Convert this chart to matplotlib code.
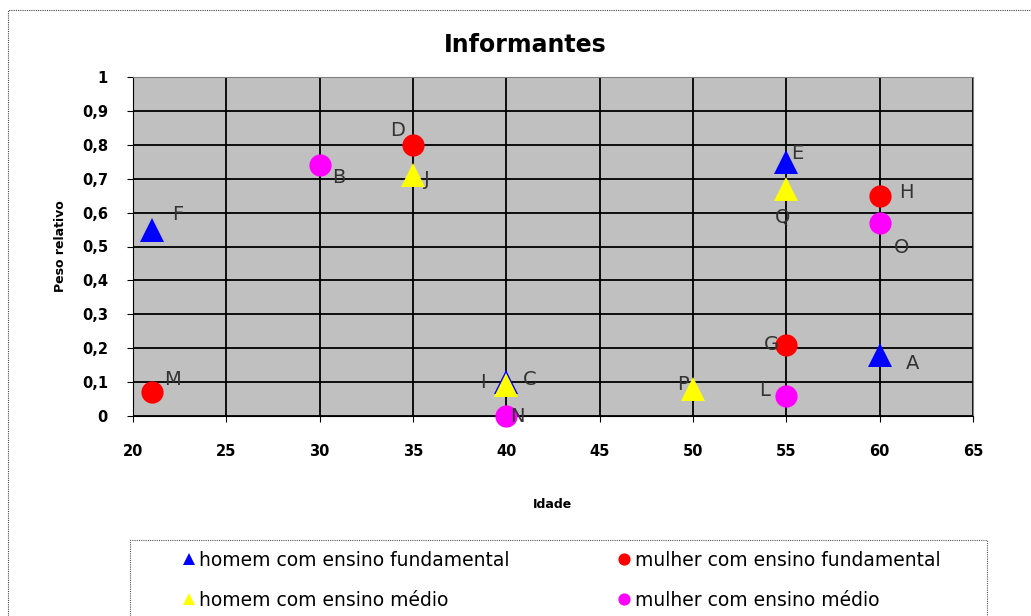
import matplotlib.pyplot as plt
from matplotlib.patches import Rectangle
from matplotlib.ticker import FuncFormatter

# homem com ensino fundamental
hf_idade = [21, 40, 55, 60]
hf_peso = [0.55, 0.10, 0.75, 0.18]
hf_nomes = ['F', 'C', 'E', 'A']

# mulher com ensino fundamental
mf_idade = [21, 35, 55, 60]
mf_peso = [0.07, 0.80, 0.21, 0.65]
mf_nomes = ['M', 'D', 'G', 'H']

# homem com ensino medio
hm_idade = [35, 40, 50, 55]
hm_peso = [0.71, 0.09, 0.08, 0.67]
hm_nomes = ['J', 'I', 'P', 'Q']

# mulher com ensino medio
mm_idade = [30, 40, 55, 60]
mm_peso = [0.74, 0.00, 0.06, 0.57]
mm_nomes = ['B', 'N', 'L', 'O']

# label offsets (points) for each informant letter
offsets = {
    'F': (19, 11), 'C': (17, 2), 'E': (8, 6), 'A': (24, -6),
    'M': (15, 9), 'D': (-11, 10), 'G': (-11, 0), 'H': (19, 2),
    'J': (10, -3), 'I': (-17, 2), 'P': (-7, 3), 'Q': (-3, -20),
    'B': (14, -9), 'N': (8, 0), 'L': (-16, 4), 'O': (16, -18),
}

fig = plt.figure(figsize=(10.31, 6.16), dpi=100)
ax = fig.add_axes([133 / 1031, 1 - 416 / 616, 840 / 1031, 339 / 616])
ax.set_facecolor('#c0c0c0')

fig.patches.append(Rectangle((8 / 1031, -0.05), 1.1, 1 - 10 / 616 + 0.05,
                             transform=fig.transFigure, fill=False,
                             edgecolor='#444444', linestyle=(0, (1, 1)), lw=0.8))

series = [
    (hf_idade, hf_peso, hf_nomes, '^', '#0000ff', 17, 'homem com ensino fundamental'),
    (mf_idade, mf_peso, mf_nomes, 'o', '#ff0000', 16, 'mulher com ensino fundamental'),
    (hm_idade, hm_peso, hm_nomes, '^', '#ffff00', 17, 'homem com ensino médio'),
    (mm_idade, mm_peso, mm_nomes, 'o', '#ff00ff', 16, 'mulher com ensino médio'),
]

handles = {}
for xs, ys, nomes, mk, cor, ms, nome in series:
    h, = ax.plot(xs, ys, linestyle='none', marker=mk, color=cor, ms=ms,
                 markeredgewidth=0, clip_on=False, zorder=3, label=nome)
    handles[nome] = h
    for x, y, n in zip(xs, ys, nomes):
        ax.annotate(n, (x, y), xytext=offsets[n], textcoords='offset points',
                    ha='center', va='center', fontsize=14, color='#333333',
                    zorder=4, annotation_clip=False)

ax.set_xlim(20, 65)
ax.set_ylim(0, 1)
ax.set_xticks(range(20, 66, 5))
ax.set_yticks([i / 10 for i in range(11)])
ax.yaxis.set_major_formatter(FuncFormatter(lambda v, p: ('%g' % round(v, 1)).replace('.', ',')))
ax.grid(True, color='black', lw=1.3)
ax.set_axisbelow(True)
for s in ax.spines.values():
    s.set_color('#808080')
    s.set_linestyle((0, (1, 1)))
ax.spines['left'].set_color('black')
ax.spines['left'].set_linestyle('-')
ax.spines['bottom'].set_color('black')
ax.spines['bottom'].set_linestyle('-')
ax.tick_params(axis='x', length=4, pad=16, labelsize=10.5)
ax.tick_params(axis='y', length=4, pad=14, labelsize=10.5)
for t in ax.get_xticklabels() + ax.get_yticklabels():
    t.set_fontweight('bold')

ax.set_xlabel('Idade', fontsize=9, fontweight='bold', labelpad=28)
ax.set_ylabel('Peso relativo', fontsize=9, fontweight='bold', labelpad=11)
fig.text(525 / 1031, 1 - 45 / 616, 'Informantes', fontsize=17, fontweight='bold',
         ha='center', va='center')

# legend frame drawn separately, its bottom runs off the figure
fig.patches.append(Rectangle((130 / 1031, -0.05), 857 / 1031, 1 - 540 / 616 + 0.05,
                             transform=fig.transFigure, fill=False,
                             edgecolor='#555555', linestyle=(0, (1, 1)), lw=0.8))
ordem = ['homem com ensino fundamental', 'homem com ensino médio',
         'mulher com ensino fundamental', 'mulher com ensino médio']
leg = fig.legend([handles[k] for k in ordem], ordem, ncol=2, loc='upper center',
                 bbox_to_anchor=(560 / 1031, 1 - 551 / 616),
                 fontsize=13.5, frameon=False, labelspacing=1.1, handletextpad=0.05,
                 markerscale=0.55, borderaxespad=0, borderpad=0,
                 handlelength=1.0, columnspacing=5.6)

fig.savefig('out.png', dpi=100)
